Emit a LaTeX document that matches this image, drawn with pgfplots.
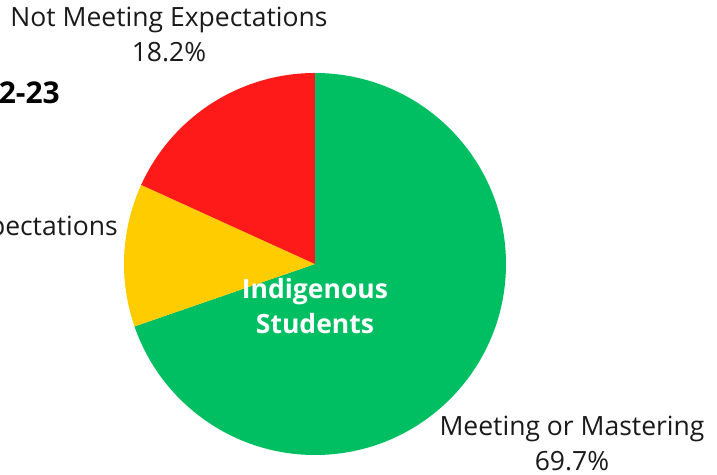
\documentclass[border=0pt]{standalone}
\usepackage{pgfplots}
\usepackage{pgfplotstable}
\pgfplotsset{compat=1.18}
\usepackage{fontspec}
\setmainfont{Open Sans}
\definecolor{cgreen}{HTML}{00BF63}
\definecolor{cyellow}{HTML}{FFCC00}
\definecolor{cred}{HTML}{FF1A1A}
\definecolor{ctext}{HTML}{1A1A1A}
\pgfplotstableread{
label value
Meeting 69.7
Approaching 12.1
NotMeeting 18.2
}\piedata
\newcommand{\pct}[1]{\pgfmathprintnumber[fixed,precision=1,fixed zerofill,assume math mode=true]{#1}\%}
\begin{document}
\begin{tikzpicture}
\useasboundingbox (0,0) rectangle (717bp,475bp);
\clip (0,0) rectangle (717bp,475bp);
\pgfplotstablegetelem{0}{value}\of\piedata \let\va\pgfplotsretval
\pgfplotstablegetelem{1}{value}\of\piedata \let\vb\pgfplotsretval
\pgfplotstablegetelem{2}{value}\of\piedata \let\vc\pgfplotsretval
\pgfmathsetmacro{\aA}{90}
\pgfmathsetmacro{\aB}{90-3.6*\va}
\pgfmathsetmacro{\aC}{90-3.6*(\va+\vb)}
\begin{axis}[x=1bp, y=1bp, xmin=0, xmax=717, ymin=0, ymax=475,
  hide axis, at={(0,0)}, anchor=south west, clip=false]
\fill[cgreen] (axis cs:315,211) -- ++(\aA:191bp) arc[start angle=\aA, delta angle=-3.6*\va, radius=191bp] -- cycle;
\fill[cyellow] (axis cs:315,211) -- ++(\aB:191bp) arc[start angle=\aB, delta angle=-3.6*\vb, radius=191bp] -- cycle;
\fill[cred] (axis cs:315,211) -- ++(\aC:191bp) arc[start angle=\aC, delta angle=-3.6*\vc, radius=191bp] -- cycle;
% labels
\tikzset{lbl/.style={text=ctext, font=\fontsize{26.5bp}{33bp}\selectfont, inner sep=0}}
\node[anchor=base, lbl] at (axis cs:169,448) {Not Meeting Expectations};
\node[anchor=base, lbl] at (axis cs:169,413) {\pct{\vc}};
\node[anchor=base, lbl] at (axis cs:572,40) {Meeting or Mastering};
\node[anchor=base, lbl] at (axis cs:572,5) {\pct{\va}};
\node[anchor=base east, lbl] (ae) at (axis cs:118,240) {Approaching Expectations};
\node[anchor=base, lbl] at ([yshift=-35bp]ae.base) {\pct{\vb}};
\node[anchor=base east, text=black, font=\bfseries\fontsize{30bp}{36bp}\selectfont, inner sep=0] at (axis cs:60,372) {2022-23};
\node[anchor=base, text=white, font=\bfseries\fontsize{26.5bp}{33bp}\selectfont, inner sep=0] at (axis cs:315,177) {Indigenous};
\node[anchor=base, text=white, font=\bfseries\fontsize{26.5bp}{33bp}\selectfont, inner sep=0] at (axis cs:315,142) {Students};
\end{axis}
\end{tikzpicture}
\end{document}
